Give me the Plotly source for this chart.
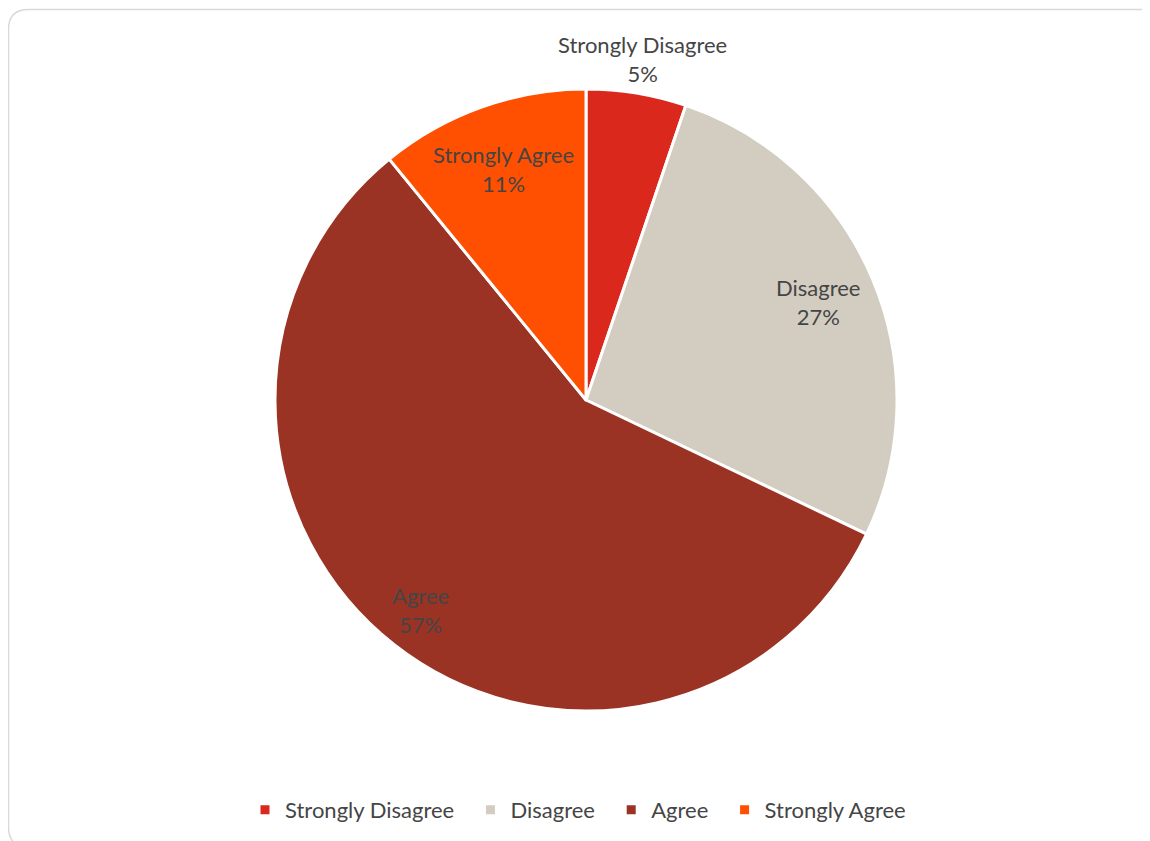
import math
import plotly.graph_objects as go

categories = ["Strongly Disagree", "Disagree", "Agree", "Strongly Agree"]
values = [5.2, 26.9, 57.0, 10.9]
colors = ["#DA291C", "#D2CDC0", "#9A3324", "#FF4F00"]
# radial position of each data label, as a fraction of the pie radius
label_radius = [1.11, 0.81, 0.86, 0.79]

W, H = 1150, 841
OFF = 8  # page body margin
FONT = "Lato, 'Open Sans', sans-serif"
TXT = "#454545"
FS = 22

# pie geometry (figure pixel coordinates)
cx, cy, R = 586 - OFF, 400 - OFF, 311

fig = go.Figure(
    go.Pie(
        labels=[c + "\u00a0\u00a0" for c in categories],
        values=values,
        sort=False,
        direction="clockwise",
        rotation=0,
        marker=dict(colors=colors, line=dict(color="white", width=3)),
        textinfo="none",
        domain=dict(x=[(cx - R) / W, (cx + R) / W], y=[1 - (cy + R) / H, 1 - (cy - R) / H]),
        hovertemplate="%{label}: %{percent}<extra></extra>",
    )
)

# data labels at each slice's mid-angle
total = sum(values)
annotations = []
cum = 0.0
for cat, v, k in zip(categories, values, label_radius):
    mid = (cum + v / 2) / total
    cum += v
    th = 2 * math.pi * mid
    x = cx + k * R * math.sin(th)
    y = cy - k * R * math.cos(th)
    annotations.append(dict(
        x=x / W, y=1 - y / H, xref="paper", yref="paper",
        text=f"{cat}<br>{round(100 * v / total)}%",
        showarrow=False, xanchor="center", yanchor="middle", align="center",
        font=dict(family=FONT, size=FS, color=TXT),
    ))

# rounded frame
r = 20
x0, y0, x1, y1 = 0.5, 1.5, 1152, 839
def px(x): return x / W
def py(y): return 1 - y / H
path = (
    f"M {px(x0)},{py(y0 + r)} "
    f"Q {px(x0)},{py(y0)} {px(x0 + r)},{py(y0)} "
    f"L {px(x1 - r)},{py(y0)} "
    f"Q {px(x1)},{py(y0)} {px(x1)},{py(y0 + r)} "
    f"L {px(x1)},{py(y1 - r)} "
    f"Q {px(x1)},{py(y1)} {px(x1 - r)},{py(y1)} "
    f"L {px(x0 + r)},{py(y1)} "
    f"Q {px(x0)},{py(y1)} {px(x0)},{py(y1 - r)} Z"
)

fig.update_layout(
    width=W,
    height=H,
    margin=dict(l=0, r=0, t=0, b=0),
    paper_bgcolor="white",
    plot_bgcolor="white",
    font=dict(family=FONT, color=TXT, size=FS),
    annotations=annotations,
    shapes=[dict(type="path", xref="paper", yref="paper", path=path,
                 line=dict(color="#D9D9D9", width=1.5), layer="below")],
    legend=dict(
        orientation="h",
        x=(266 - OFF - 21) / W,
        xanchor="left",
        y=1 - (810 - OFF) / H,
        yanchor="middle",
        font=dict(family=FONT, size=FS, color=TXT),
        itemwidth=30,
        traceorder="normal",
    ),
    showlegend=True,
)

fig.write_html("out.html")
